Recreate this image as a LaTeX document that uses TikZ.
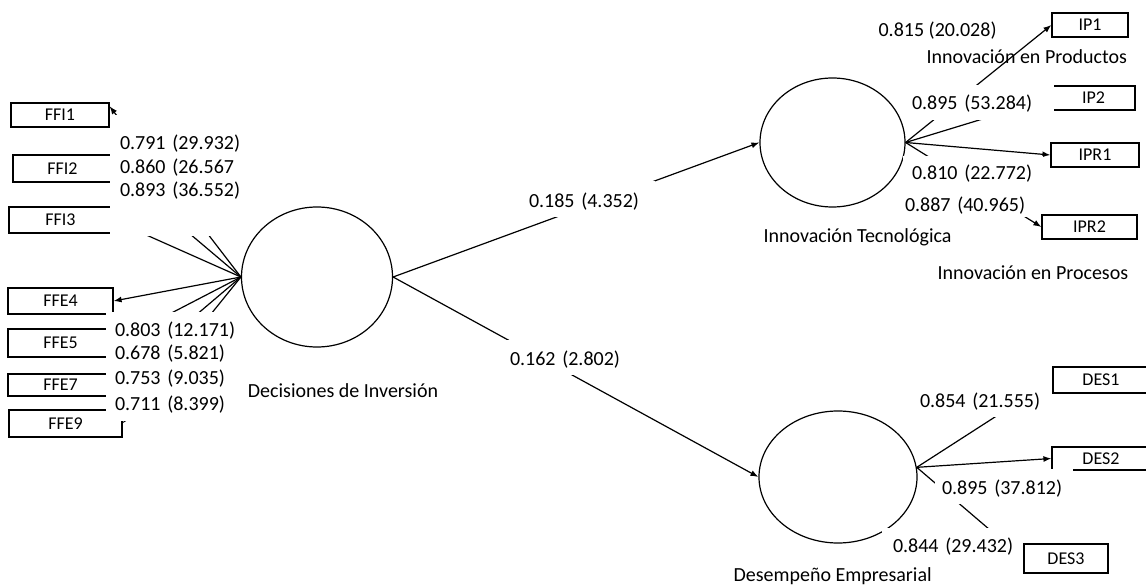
\documentclass[tikz,border=0pt]{standalone}
\usepackage{fontspec}
\setmainfont{Carlito}
\usetikzlibrary{shapes.geometric}
\usetikzlibrary{arrows.meta}

\begin{document}
\begin{tikzpicture}[x=0.5pt, y=-0.5pt, line width=0.6pt,
  latent/.style={draw, ellipse, inner sep=0pt},
  ind/.style={draw, rectangle, inner sep=0pt, font=\fontsize{9}{10}\selectfont},
  load/.style={-{Latex[length=4pt,width=3pt]}},
  txt/.style={anchor=base west, inner sep=0pt},
  coef/.style={fill=white, anchor=base west, inner ysep=0pt, outer sep=0pt, align=left, text height=7pt, text depth=6pt}]
  \useasboundingbox (0,0) rectangle (1146,588);

  % indicator boxes
  \node[ind, minimum width=49pt, minimum height=12pt] (ffi1) at (60,115) {FFI1};
  \node[ind, minimum width=49.5pt, minimum height=13.5pt] (ffi2) at (62.5,168.5) {FFI2};
  \node[ind, minimum width=51.5pt, minimum height=13pt] (ffi3) at (60.5,220) {FFI3};
  \node[ind, minimum width=52.5pt, minimum height=13pt] (ffe4) at (60.5,301) {FFE4};
  \node[ind, minimum width=52.5pt, minimum height=14pt] (ffe5) at (60.5,343) {FFE5};
  \node[ind, minimum width=52.5pt, minimum height=11pt] (ffe7) at (60.5,385) {FFE7};
  \node[ind, minimum width=56.5pt, minimum height=13.5pt] (ffe9) at (65.5,423.5) {FFE9};
  \node[ind, minimum width=38pt, minimum height=12pt] (ip1) at (1090,25) {IP1};
  \node[ind, minimum width=41.5pt, minimum height=12pt] (ip2) at (1093.5,98) {IP2};
  \node[ind, minimum width=44pt, minimum height=12pt] (ipr1) at (1095,155) {IPR1};
  \node[ind, minimum width=47.5pt, minimum height=12pt] (ipr2) at (1089.5,227) {IPR2};
  \node[ind, minimum width=48pt, minimum height=13pt] (des1) at (1101,380) {DES1};
  \node[ind, minimum width=49pt, minimum height=11.5pt] (des2) at (1101,458.5) {DES2};
  \node[ind, minimum width=42pt, minimum height=14.5pt] (des3) at (1066,558.5) {DES3};

  % latent variables
  \node[latent, minimum width=75.5pt, minimum height=70pt] (dec) at (317,277) {};
  \node[latent, minimum width=72.5pt, minimum height=64.5pt] (inn) at (832.5,142.5) {};
  \node[latent, minimum width=79pt, minimum height=66pt] (des) at (838,477) {};

  % loadings and paths
  \draw[load] (dec.west) -- (ffi1.10);
  \foreach \b in {ffi2,ffi3,ffe4,ffe5,ffe7,ffe9} {
    \draw[load] (dec.west) -- (\b.east);
  }
  \draw[load] (dec.east) -- (inn.west);
  \draw[load] (dec.east) -- (des.west);
  \foreach \b in {ip1,ip2,ipr1,ipr2} {
    \draw[load] (inn.east) -- (\b.west);
  }
  \foreach \b in {des1,des2,des3} {
    \draw[load] (des.7) -- (\b.west);
  }

  % coefficients (white boxes)
  \node[coef, inner xsep=5pt, text width=60pt, text height=17.5pt] (f1) at (110,150) {0.791~(29.932)};
  \node[coef, inner xsep=5pt, text width=60pt] (f2) at (110,173.5) {0.860~(26.567};
  \node[coef, inner xsep=5pt, text width=60pt, text depth=19.5pt] (f3) at (110,197) {0.893~(36.552)};
  \node[coef, inner xsep=4.5pt, text width=60.5pt, text height=12pt] (f4) at (106,336) {0.803~(12.171)};
  \node[coef, inner xsep=4.5pt, text width=60.5pt] (f5) at (106,359) {0.678~(5.821)};
  \node[coef, inner xsep=4.5pt, text width=60.5pt] (f7) at (106,384) {0.753~(9.035)};
  \node[coef, inner xsep=4.5pt, text width=60.5pt, text depth=5.5pt] (f9) at (106,410) {0.711~(8.399)};
  \node[coef, inner xsep=4.5pt, text width=58.5pt, text height=13.5pt, text depth=4.5pt] (p1) at (520,208) {0.185~(4.352)};
  \node[coef, inner xsep=5pt, text width=55pt, text height=12.5pt, text depth=5pt] (p2) at (500,365) {0.162~(2.802)};
  \node[coef, inner xsep=3.5pt, text width=67.5pt, text height=12.5pt, text depth=5pt] (i2) at (905,110) {0.895~(53.284)};
  \node[coef, inner xsep=4.5pt, text width=61pt, text height=12pt, text depth=6pt] (r1) at (903,180) {0.810~(22.772)};
  \node[coef, inner xsep=1pt, text width=61pt, text height=10pt, text depth=2.5pt] (r2) at (903,212) {0.887~(40.965)};
  \node[coef, inner xsep=2.5pt, text width=63.5pt, text height=16pt, text depth=4.5pt] (d1) at (915,408) {0.854~(21.555)};
  \node[coef, inner xsep=3.5pt, text width=62pt, text height=12.5pt, text depth=5pt] (d2) at (935,494) {0.895~(37.812)};
  \node[coef, inner xsep=5.5pt, text width=59.5pt, text height=12pt, text depth=5pt] (d3) at (882,552) {0.844~(29.432)};
  \node[txt] (i1) at (878,37) {0.815 (20.028)};

  % construct names
  \node[anchor=base, inner sep=0pt] (declab) at (343,397) {Decisiones de Inversión};
  \node[txt] (innlab) at (763,243) {Innovación Tecnológica};
  \node[txt] (deslab) at (733,581) {Desempeño Empresarial};
  \node[txt] (iplab) at (926,64) {Innovación en Productos};
  \node[txt] (iprlab) at (937,280) {Innovación en Procesos};
\end{tikzpicture}
\end{document}
